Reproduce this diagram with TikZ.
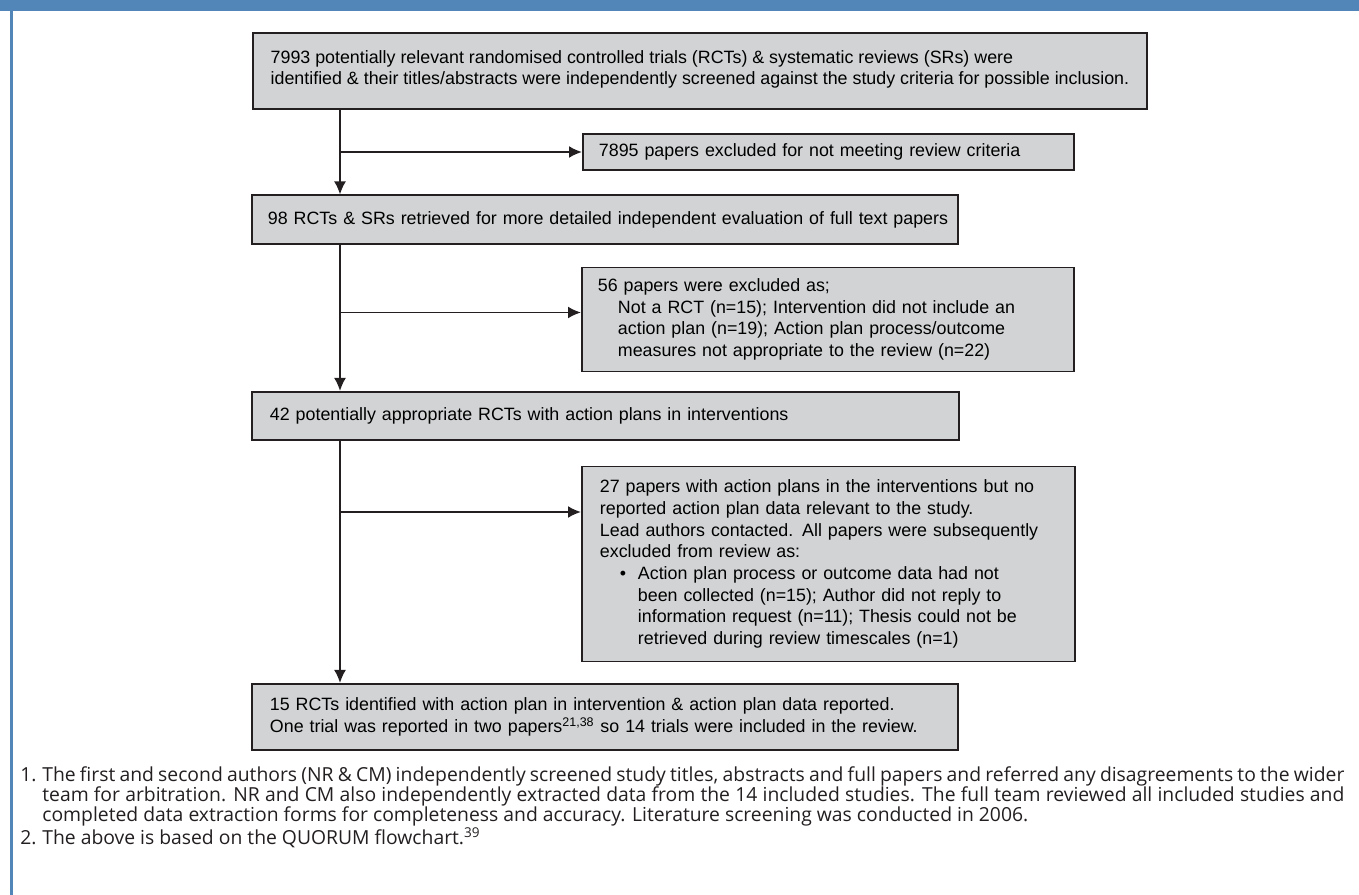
\documentclass[tikz,border=0pt]{standalone}
\usepackage{fontspec}
\setmainfont{Liberation Sans}
\newfontfamily\notefont{Open Sans}
\usepackage{tikz}
\usetikzlibrary{arrows.meta,positioning}

\definecolor{hdrblue}{RGB}{82,134,184}
\definecolor{boxgrey}{RGB}{209,211,212}
\definecolor{linedark}{RGB}{35,31,32}

\newcommand{\boxfont}{\fontsize{10.15pt}{12.3pt}\selectfont}
\newcommand{\notesize}{\fontsize{11pt}{11.4pt}\selectfont}

\begin{document}
\begin{tikzpicture}[
    flowbox/.style={draw=linedark,line width=1.1pt,fill=boxgrey,anchor=north west,
      align=left,inner ysep=0pt,font=\boxfont},
    flowline/.style={draw=linedark,line width=1.1pt},
    flowarrow/.style={flowline,-{Latex[length=7.4pt,width=6.8pt]}},
  ]
  \useasboundingbox (0,0) rectangle (27.18,-17.9);

  % page frame
  \fill[hdrblue] (0,0) rectangle (27.18,-0.22);
  \draw[hdrblue,line width=1.7pt] (0.23,-0.22) -- (0.23,-17.9);

  % boxes
  \node[flowbox,inner xsep=0pt,minimum width=17.88cm,minimum height=1.52cm] (n7993) at (5.04,-0.64)
    {7993 potentially relevant randomised controlled trials (RCTs) \& systematic reviews (SRs) were\\
     identified \& their titles/abstracts were independently screened against the study criteria for possible inclusion.\rule[-4pt]{0pt}{0pt}};
  \node[flowbox,inner xsep=0.32cm,text width=9.18cm,minimum height=0.72cm] (n7895) at (11.64,-2.66)
    {7895 papers excluded for not meeting review criteria};
  \node[flowbox,inner xsep=0.32cm,text width=13.48cm,minimum height=0.97cm] (n98) at (5.02,-3.89)
    {\mbox{98 RCTs \& SRs retrieved for more detailed independent evaluation of full text papers}};
  \node[flowbox,inner xsep=0.32cm,text width=9.2cm,minimum height=2.08cm] (n56) at (11.62,-5.33)
    {56 papers were excluded as;\\
     \hspace*{0.4cm}Not a RCT (n=15); Intervention did not include an\\
     \hspace*{0.4cm}action plan (n=19); Action plan process/outcome\\
     \hspace*{0.4cm}measures not appropriate to the review (n=22)};
  \node[flowbox,inner xsep=0.36cm,text width=13.42cm,minimum height=0.96cm] (n42) at (5.02,-7.82)
    {42 potentially appropriate RCTs with action plans in interventions};
  \node[flowbox,inner xsep=0.36cm,text width=9.14cm,minimum height=3.9cm] (n27) at (11.62,-9.31)
    {27 papers with action plans in the interventions but no\\
     reported action plan data relevant to the study.\\
     Lead authors contacted. All papers were subsequently\\
     excluded from review as:\\
     \hspace*{0.4cm}\makebox[0.36cm][l]{\textbullet}Action plan process or outcome data had not\\
     \hspace*{0.76cm}been collected (n=15); Author did not reply to\\
     \hspace*{0.76cm}information request (n=11); Thesis could not be\\
     \hspace*{0.76cm}retrieved during review timescales (n=1)};
  \node[flowbox,inner xsep=0.36cm,text width=13.4cm,minimum height=1.32cm] (n15) at (5.02,-13.66)
    {15 RCTs identified with action plan in intervention \& action plan data reported.\\
     One trial was reported in two papers\textsuperscript{21,38} so 14 trials were included in the review.};

  % spine
  \coordinate (s1) at (6.8,-3.04);
  \coordinate (s2) at (6.8,-6.25);
  \coordinate (s3) at (6.8,-10.24);

  \draw[flowarrow] (n7993.south -| s1) -- (n98.north -| s1);
  \draw[flowarrow] (s1) -- (s1 -| n7895.west);
  \draw[flowarrow] (n98.south -| s2) -- (n42.north -| s2);
  \draw[flowarrow] (s2) -- (s2 -| n56.west);
  \draw[flowarrow] (n42.south -| s3) -- (n15.north -| s3);
  \draw[flowarrow] (s3) -- (s3 -| n27.west);

  % notes
  \node[anchor=north west,inner sep=0pt,text width=26.48cm,align=justify,font=\notefont\notesize,text=linedark] (notes) at (0.4,-15.33)
    {\hangindent=0.44cm\hangafter=1\noindent\makebox[0.44cm][l]{1.}The first and second authors (NR \& CM) independently screened study titles, abstracts and full papers and referred any disagreements to the wider team for arbitration. NR and CM also independently extracted data from the 14 included studies. The full team reviewed all included studies and completed data extraction forms for completeness and accuracy. Literature screening was conducted in 2006.\par
     \hangindent=0.44cm\hangafter=1\noindent\makebox[0.44cm][l]{2.}The above is based on the QUORUM flowchart.\textsuperscript{39}};
\end{tikzpicture}
\end{document}
